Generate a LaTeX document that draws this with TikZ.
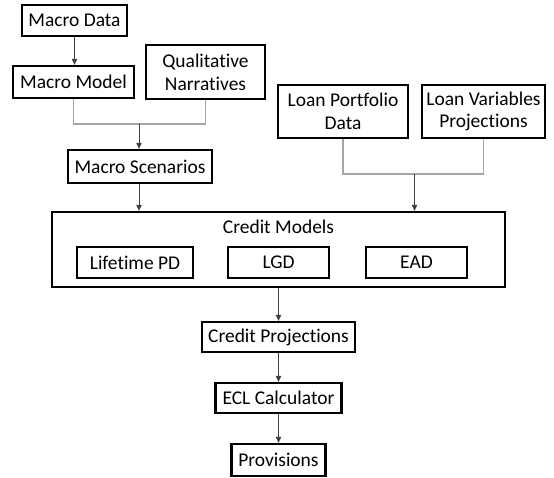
\documentclass[tikz,border=0pt]{standalone}
\usepackage{fontspec}
\setmainfont{Carlito}[RawFeature={-liga;-dlig}]
\usetikzlibrary{arrows.meta}
\begin{document}
\begin{tikzpicture}[x=0.75pt,y=-0.75pt,
  font=\fontsize{14.6}{17}\selectfont,
  box/.style={draw=black,line width=1.7pt,fill=white,inner sep=0pt,align=center},
  ibox/.style={draw=black,line width=1.2pt,fill=white,inner sep=0pt,align=center},
  merge/.style={draw=black!35,line width=0.8pt},
  arr/.style={draw=black!75,line width=0.7pt,-{Triangle[width=4pt,length=4.5pt]}}]
\useasboundingbox (0,0) rectangle (554,478);
\node[box,minimum width=78.75pt,minimum height=23.25pt] (md) at (74.5,20.5) {Macro Data};
\node[box,minimum width=90.75pt,minimum height=24pt] (mm) at (73.5,82) {Macro Model};
\node[box,minimum width=89.25pt,minimum height=40.5pt] (qn) at (205.5,72) {Qualitative\\Narratives};
\node[box,minimum width=108pt,minimum height=24.75pt] (ms) at (140,166.5) {Macro Scenarios};
\node[box,minimum width=97.5pt,minimum height=39.75pt] (lpd) at (343,111.5) {Loan Portfolio\\Data};
\node[box,minimum width=92.25pt,minimum height=39.75pt] (lvp) at (483.5,111.5) {Loan Variables\\Projections};
\node[box,minimum width=339.75pt,minimum height=56.25pt] (cm) at (278.5,249.5) {};
\node (cmt) at (278.5,227) {Credit Models};
\node[ibox,minimum width=87pt,minimum height=23.25pt] (pd) at (135,262.5) {Lifetime PD};
\node[ibox,minimum width=75.75pt,minimum height=23.25pt] (lgd) at (278.5,262.5) {LGD};
\node[ibox,minimum width=75.75pt,minimum height=23.25pt] (ead) at (416.5,262.5) {EAD};
\node[box,minimum width=114.75pt,minimum height=22.5pt] (cp) at (278.5,337) {Credit Projections};
\node[box,minimum width=94.5pt,minimum height=22.5pt] (ecl) at (278.5,398) {ECL Calculator};
\node[box,minimum width=70.5pt,minimum height=24pt] (prov) at (278.5,460) {Provisions};
\coordinate (j1) at (139,124);
\coordinate (j2) at (414.5,174);
\draw[arr] (md) -- (md |- mm.north);
\draw[merge] (mm.south) |- (j1) -| (qn.south);
\draw[arr] (j1) -- (j1 |- ms.north);
\draw[arr] (ms.south -| j1) -- (j1 |- cm.north);
\draw[merge] (lpd.south) |- (j2) -| (lvp.south);
\draw[arr] (j2) -- (j2 |- cm.north);
\draw[arr] (cm.south) -- (cp.north);
\draw[arr] (cp.south) -- (ecl.north);
\draw[arr] (ecl.south) -- (prov.north);
\end{tikzpicture}
\end{document}
